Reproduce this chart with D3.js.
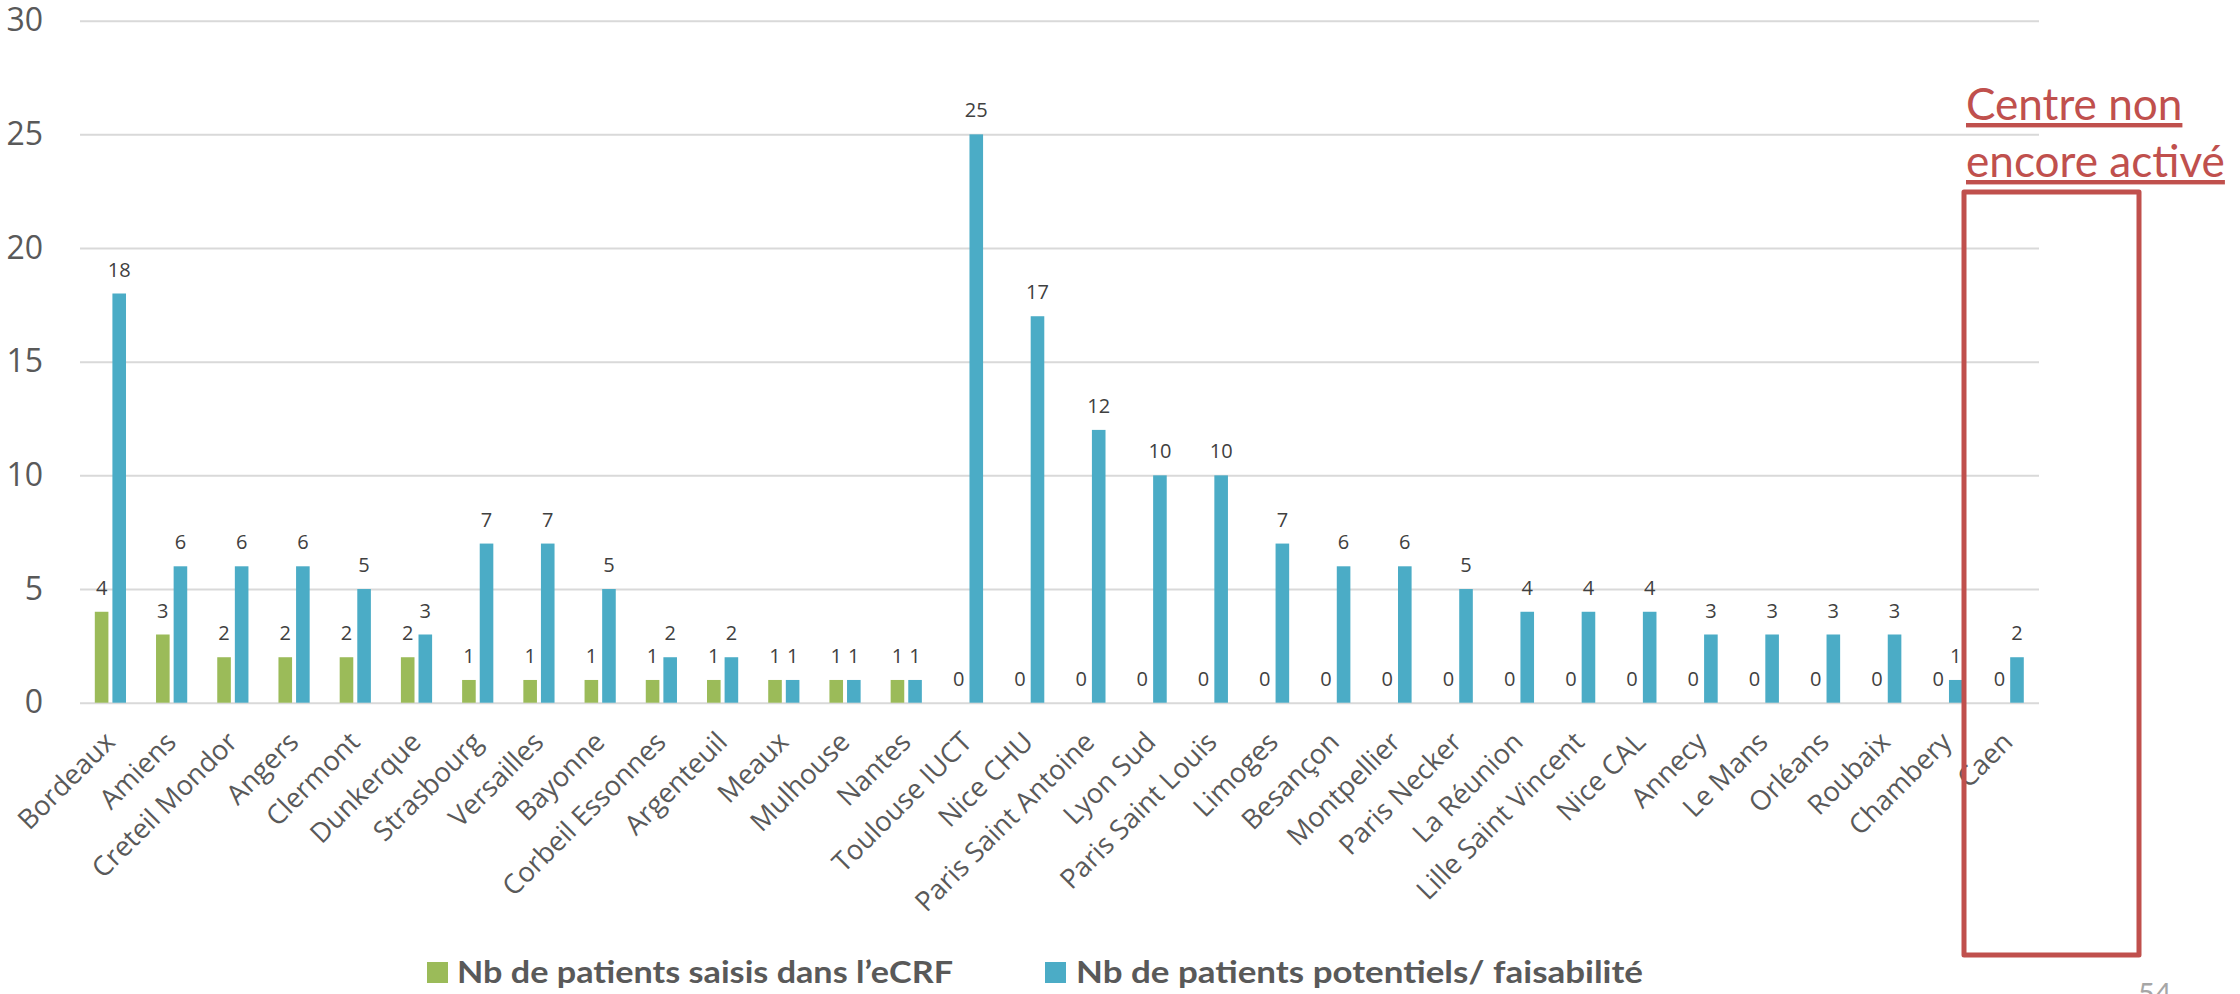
<!DOCTYPE html>
<html>
<head>
<meta charset="utf-8">
<script src="https://cdn.jsdelivr.net/npm/d3@7"></script>
<style>
  html, body { margin: 0; padding: 0; background: #ffffff; }
  svg { display: block; }
</style>
</head>
<body>
<svg id="chart" width="2240" height="994"></svg>
<script>
// Centres participants
const categories = [
  "Bordeaux", "Amiens", "Creteil Mondor", "Angers", "Clermont", "Dunkerque",
  "Strasbourg", "Versailles", "Bayonne", "Corbeil Essonnes", "Argenteuil",
  "Meaux", "Mulhouse", "Nantes", "Toulouse IUCT", "Nice CHU",
  "Paris Saint Antoine", "Lyon Sud", "Paris Saint Louis", "Limoges",
  "Besançon", "Montpellier", "Paris Necker", "La Réunion",
  "Lille Saint Vincent", "Nice CAL", "Annecy", "Le Mans", "Orléans",
  "Roubaix", "Chambery", "Caen"
];

// Nb de patients saisis dans l'eCRF
const saisis = [4, 3, 2, 2, 2, 2, 1, 1, 1, 1, 1, 1, 1, 1,
                0, 0, 0, 0, 0, 0, 0, 0, 0, 0, 0, 0, 0, 0, 0, 0, 0, 0];

// Nb de patients potentiels / faisabilité
const potentiels = [18, 6, 6, 6, 5, 3, 7, 7, 5, 2, 2, 1, 1, 1,
                    25, 17, 12, 10, 10, 7, 6, 6, 5, 4, 4, 4, 3, 3, 3, 3, 1, 2];

const yTicks = [0, 5, 10, 15, 20, 25, 30];

const seriesNames = ["Nb de patients saisis dans l’eCRF", "Nb de patients potentiels/ faisabilité"];
const seriesColors = ["#9BBB59", "#4BACC6"];

const annotationLines = ["Centre non", "encore activé"];
const pageNumber = "54";

const svg = d3.select("#chart");

const axisFont = "'Open Sans', sans-serif";
const noteFont = "Lato, sans-serif";

// font size that gives a string a wanted rendered width
function fitSize(text, family, weight, wanted) {
  const probe = svg.append("text")
    .style("font-family", family)
    .style("font-weight", weight)
    .style("font-size", "100px")
    .text(text);
  const w = probe.node().getComputedTextLength();
  probe.remove();
  return 100 * wanted / w;
}

const plot = { left: 80, right: 2039, top: 20.7, bottom: 702.7 };

const x = d3.scaleBand()
  .domain(categories)
  .range([plot.left, plot.right])
  .paddingInner(0)
  .paddingOuter(0);

const y = d3.scaleLinear()
  .domain([0, 30])
  .range([plot.bottom, plot.top]);

// Horizontal gridlines and value axis
const yAxis = svg.append("g")
  .attr("transform", `translate(${plot.left},0)`)
  .call(d3.axisLeft(y)
    .tickValues(yTicks)
    .tickSize(-(plot.right - plot.left))
    .tickPadding(37));
yAxis.select(".domain").remove();
yAxis.selectAll(".tick line")
  .attr("stroke", "#D9D9D9")
  .attr("stroke-width", 2);
yAxis.selectAll(".tick text")
  .attr("fill", "#595959")
  .style("font-family", axisFont)
  .style("font-size", "32px");

// Bars: two series per centre
const barW = 13.6;
const offsets = [-15.8, 1.8];
const seriesData = [saisis, potentiels];

seriesData.forEach((vals, s) => {
  const g = svg.append("g");
  g.selectAll("rect")
    .data(categories)
    .join("rect")
    .attr("x", (d) => x(d) + x.bandwidth() / 2 + offsets[s])
    .attr("y", (d, i) => y(vals[i]))
    .attr("width", barW)
    .attr("height", (d, i) => y(0) - y(vals[i]))
    .attr("fill", seriesColors[s]);

  g.selectAll("text")
    .data(categories)
    .join("text")
    .attr("x", (d) => x(d) + x.bandwidth() / 2 + offsets[s] + barW / 2)
    .attr("y", (d, i) => y(vals[i]) - 17)
    .attr("text-anchor", "middle")
    .attr("fill", "#404040")
    .style("font-family", axisFont)
    .style("font-size", "20px")
    .text((d, i) => vals[i]);
});

// Category labels, rotated
const catSize = fitSize("Creteil Mondor", axisFont, "normal", 192);
svg.append("g")
  .selectAll("text")
  .data(categories)
  .join("text")
  .attr("transform", (d) => `translate(${x(d) + x.bandwidth() / 2 + 6},${plot.bottom + 41}) rotate(-45)`)
  .attr("text-anchor", "end")
  .attr("fill", "#595959")
  .style("font-family", axisFont)
  .style("font-size", catSize + "px")
  .text((d) => d);

// Legend
const legendItems = [
  { sq: 427, tx: 457, width: 496 },
  { sq: 1045, tx: 1076, width: 567 }
];
const legend = svg.append("g");
legendItems.forEach((it, i) => {
  legend.append("rect")
    .attr("x", it.sq).attr("y", 962)
    .attr("width", 21).attr("height", 21)
    .attr("fill", seriesColors[i]);
  legend.append("text")
    .attr("x", it.tx).attr("y", 983)
    .attr("fill", "#595959")
    .attr("textLength", it.width)
    .attr("lengthAdjust", "spacingAndGlyphs")
    .style("font-family", noteFont)
    .style("font-weight", "bold")
    .style("font-size", "31px")
    .text(seriesNames[i]);
});

// Centre not yet activated: highlight box and note
svg.append("rect")
  .attr("x", 1964).attr("y", 192)
  .attr("width", 175).attr("height", 763)
  .attr("fill", "none")
  .attr("stroke", "#C0504D")
  .attr("stroke-width", 5)
  .attr("stroke-linejoin", "round");

const noteSize = fitSize(annotationLines[1], noteFont, "normal", 259);
svg.append("g")
  .selectAll("text")
  .data(annotationLines)
  .join("text")
  .attr("x", 1966)
  .attr("y", (d, i) => 120 + i * 57)
  .attr("fill", "#C0504D")
  .style("font-family", noteFont)
  .style("font-size", noteSize + "px")
  .style("text-decoration", "underline")
  .text((d) => d);

// Slide number
svg.append("text")
  .attr("x", 2138).attr("y", 1004)
  .attr("fill", "#A6A6A6")
  .style("font-family", noteFont)
  .style("font-size", "29px")
  .text(pageNumber);
</script>
</body>
</html>
